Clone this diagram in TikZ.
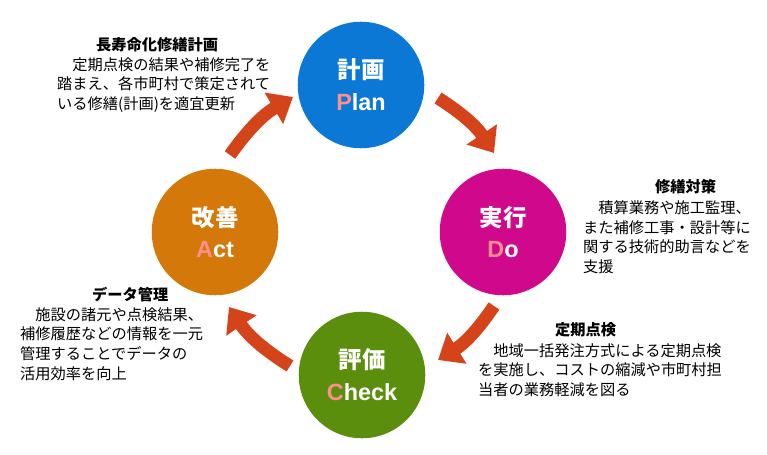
\documentclass[tikz,border=0pt]{standalone}
\usepackage{fontspec}
\setmainfont{Liberation Sans}
\newfontfamily\jp{Noto Sans CJK JP}
\usetikzlibrary{arrows.meta}
\definecolor{planblue}{HTML}{0A78D4}
\definecolor{domag}{HTML}{D0098C}
\definecolor{checkgreen}{HTML}{5A8E0C}
\definecolor{actorange}{HTML}{D4780A}
\definecolor{arrowred}{HTML}{D4431A}
\definecolor{initpink}{HTML}{FF8F8F}
\tikzset{
  phase/.style={circle, fill=#1, minimum size=108pt, inner sep=0pt, text=white, align=center},
  title/.style={font=\jp\bfseries\fontsize{20}{24}\selectfont},
  cycle/.style={arrowred, line width=11pt, -{Triangle[width=30pt,length=19pt]}},
  note/.style={anchor=north west, inner sep=0pt, align=left, font=\jp\fontsize{13}{17}\selectfont},
  head/.style={anchor=north west, inner sep=0pt, font=\jp\bfseries\fontsize{13}{17}\selectfont}
}
\newcommand{\initial}[2]{{\bfseries\fontsize{20}{24}\selectfont\textcolor{initpink}{#1}#2}}
\begin{document}
\begin{tikzpicture}[x=0.03cm,y=-0.03cm]
\useasboundingbox (0,0) rectangle (767,454);
% the four phases
\node[phase=planblue] (plan) at (361,85) {{\jp\bfseries\fontsize{20}{24}\selectfont 計画}\\[10pt]\initial{P}{lan}};
\node[phase=domag] (do) at (503,232) {{\jp\bfseries\fontsize{20}{24}\selectfont 実行}\\[10pt]\initial{D}{o}};
\node[phase=checkgreen] (check) at (362,375) {{\jp\bfseries\fontsize{20}{24}\selectfont 評価}\\[10pt]\initial{C}{heck}};
\node[phase=actorange] (act) at (215,232) {{\jp\bfseries\fontsize{20}{24}\selectfont 改善}\\[10pt]\initial{A}{ct}};
% arrows between phases
\coordinate (p1) at (438,98);  \coordinate (p2) at (494,153);
\coordinate (d1) at (494,306); \coordinate (d2) at (438,360);
\coordinate (c1) at (290,366); \coordinate (c2) at (229,307);
\coordinate (a1) at (230,155); \coordinate (a2) at (293,97);
\draw[cycle] (p1) to[bend left=12] (p2);
\draw[cycle] (d1) to[bend left=12] (d2);
\draw[cycle] (c1) to[bend left=12] (c2);
\draw[cycle] (a1) to[bend left=12] (a2);
% notes
\node[head] (planhead) at (96,37) {長寿命化修繕計画};
\node[note] (plannote) at (57,57) {　定期点検の結果や補修完了を\\踏まえ、各市町村で策定されて\\いる修繕(計画)を適宜更新};
\node[head] (dohead) at (655,179) {修繕対策};
\node[note] (donote) at (583,200) {　積算業務や施工監理、\\また補修工事・設計等に\\関する技術的助言などを\\支援};
\node[head] (checkhead) at (555,322) {定期点検};
\node[note] (checknote) at (478,343) {　地域一括発注方式による定期点検\\を実施し、コストの縮減や市町村担\\当者の業務軽減を図る};
\node[head] (acthead) at (92,287) {データ管理};
\node[note] (actnote) at (20,307) {　施設の諸元や点検結果、\\補修履歴などの情報を一元\\管理することでデータの\\活用効率を向上};
\end{tikzpicture}
\end{document}
